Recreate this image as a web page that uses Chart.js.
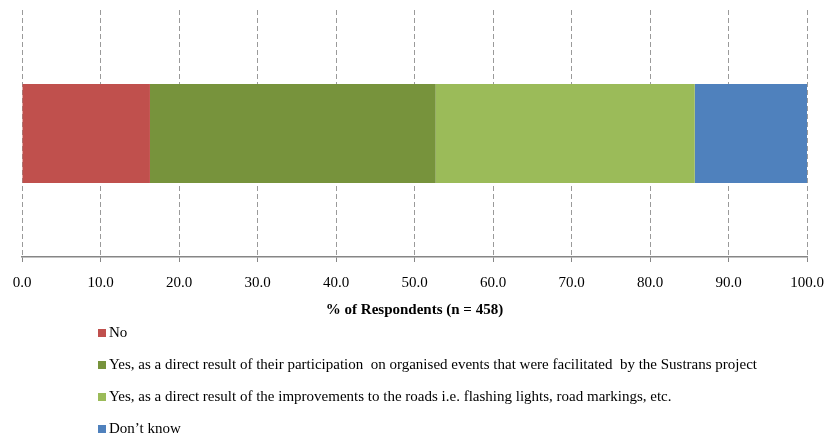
<!DOCTYPE html>
<html>
<head>
<meta charset="utf-8">
<script src="https://cdn.jsdelivr.net/npm/chart.js@4/dist/chart.umd.min.js"></script>
<style>
  html, body { margin: 0; padding: 0; background: #fff; }
  #wrap { width: 827px; height: 437px; }
</style>
</head>
<body>
<div id="wrap"><canvas id="respChart"></canvas></div>
<script>
// answers, in the order they are stacked left to right
const answers = [
  'No',
  'Yes, as a direct result of their participation  on organised events that were facilitated  by the Sustrans project',
  'Yes, as a direct result of the improvements to the roads i.e. flashing lights, road markings, etc.',
  'Don\u2019t know'
];
const percents = [16.3, 36.4, 33.0, 14.3];
const colours = ['#C0504D', '#77933C', '#9BBB59', '#4F81BD'];
const xTicks = [0, 10, 20, 30, 40, 50, 60, 70, 80, 90, 100];

const serif = '"Liberation Serif", "Times New Roman", serif';

// legend listed one per line under the axis
const listLegend = {
  id: 'listLegend',
  afterDraw(chart) {
    const ctx = chart.ctx;
    ctx.save();
    ctx.font = '15px ' + serif;
    ctx.textBaseline = 'middle';
    chart.data.datasets.forEach((ds, i) => {
      const y = 333 + i * 32;
      ctx.fillStyle = ds.backgroundColor;
      ctx.fillRect(98, y - 4, 8, 8);
      ctx.fillStyle = '#000';
      ctx.fillText(ds.label, 109, y);
    });
    ctx.restore();
  }
};

const datasets = answers.map((a, i) => ({
  label: a,
  data: [percents[i]],
  backgroundColor: colours[i],
  borderWidth: 0,
  barPercentage: 0.5,
  categoryPercentage: 0.8
}));

new Chart(document.getElementById('respChart'), {
  type: 'bar',
  data: { labels: [''], datasets: datasets },
  options: {
    indexAxis: 'y',
    responsive: true,
    maintainAspectRatio: false,
    animation: false,
    layout: { padding: { top: 10, left: 22, right: 20, bottom: 121 } },
    plugins: {
      legend: { display: false },
      tooltip: { enabled: false }
    },
    scales: {
      y: { stacked: true, display: false },
      x: {
        stacked: true,
        min: 0,
        max: 100,
        afterBuildTicks(axis) { axis.ticks = xTicks.map(v => ({ value: v })); },
        // let the layout padding alone set the side margins
        afterFit(axis) { axis.paddingLeft = 0; axis.paddingRight = 0; },
        // dash here applies to the vertical grid lines
        border: { display: true, color: '#868686', width: 1.5, dash: [5, 3] },
        grid: {
          color: '#9a9a9a',
          lineWidth: 1,
          drawTicks: true,
          tickLength: 5,
          tickColor: '#868686'
        },
        ticks: {
          color: '#000',
          font: { family: serif, size: 15 },
          padding: 12,
          maxRotation: 0,
          callback: v => v.toFixed(1)
        },
        title: {
          display: true,
          text: '% of Respondents (n = 458)',
          color: '#000',
          font: { family: serif, size: 15, weight: 'bold', lineHeight: 0.8 },
          padding: { top: 0, bottom: 0 }
        }
      }
    }
  },
  plugins: [listLegend]
});
</script>
</body>
</html>
